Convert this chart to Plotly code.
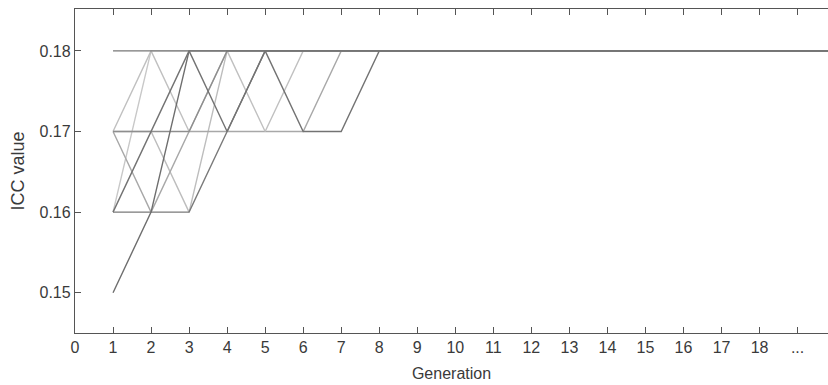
import plotly.graph_objects as go

generations = [1, 2, 3, 4, 5, 6, 7, 8, 9, 10, 11, 12, 13, 14, 15, 16, 17, 18, 19, 20]

run_a = [0.18, 0.18, 0.18, 0.18, 0.18, 0.18, 0.18, 0.18, 0.18, 0.18, 0.18, 0.18, 0.18, 0.18, 0.18, 0.18, 0.18, 0.18, 0.18, 0.18]
run_b = [0.17, 0.18, 0.17, 0.18, 0.17, 0.18, 0.18, 0.18, 0.18, 0.18, 0.18, 0.18, 0.18, 0.18, 0.18, 0.18, 0.18, 0.18, 0.18, 0.18]
run_c = [0.16, 0.17, 0.18, 0.17, 0.18, 0.17, 0.17, 0.18, 0.18, 0.18, 0.18, 0.18, 0.18, 0.18, 0.18, 0.18, 0.18, 0.18, 0.18, 0.18]
run_d = [0.17, 0.16, 0.17, 0.17, 0.17, 0.17, 0.18, 0.18, 0.18, 0.18, 0.18, 0.18, 0.18, 0.18, 0.18, 0.18, 0.18, 0.18, 0.18, 0.18]
run_e = [0.16, 0.16, 0.16, 0.17, 0.18, 0.18, 0.18, 0.18, 0.18, 0.18, 0.18, 0.18, 0.18, 0.18, 0.18, 0.18, 0.18, 0.18, 0.18, 0.18]
run_f = [0.15, 0.16, 0.18, 0.18, 0.18, 0.18, 0.18, 0.18, 0.18, 0.18, 0.18, 0.18, 0.18, 0.18, 0.18, 0.18, 0.18, 0.18, 0.18, 0.18]
run_g = [0.16, 0.18, 0.18, 0.18, 0.18, 0.18, 0.18, 0.18, 0.18, 0.18, 0.18, 0.18, 0.18, 0.18, 0.18, 0.18, 0.18, 0.18, 0.18, 0.18]
run_h = [0.17, 0.17, 0.16, 0.18, 0.18, 0.18, 0.18, 0.18, 0.18, 0.18, 0.18, 0.18, 0.18, 0.18, 0.18, 0.18, 0.18, 0.18, 0.18, 0.18]
run_i = [0.17, 0.17, 0.17, 0.18, 0.18, 0.18, 0.18, 0.18, 0.18, 0.18, 0.18, 0.18, 0.18, 0.18, 0.18, 0.18, 0.18, 0.18, 0.18, 0.18]

runs = [run_g, run_h, run_d, run_b, run_i, run_e, run_f, run_c, run_a]
run_colors = ["#c8c8c8", "#bdbdbd", "#a8a8a8", "#c0c0c0", "#8e8e8e",
              "#7a7a7a", "#6e6e6e", "#737373", "#777777"]

x_tick_vals = [0, 1, 2, 3, 4, 5, 6, 7, 8, 9, 10, 11, 12, 13, 14, 15, 16, 17, 18, 19]
x_tick_text = ["0", "1", "2", "3", "4", "5", "6", "7", "8", "9", "10", "11", "12",
               "13", "14", "15", "16", "17", "18", "..."]
y_tick_vals = [0.15, 0.16, 0.17, 0.18]
y_tick_text = ["0.15", "0.16", "0.17", "0.18"]

fig = go.Figure()
for vals, col in zip(runs, run_colors):
    fig.add_trace(go.Scatter(x=generations, y=vals, mode="lines",
                             line=dict(color=col, width=1.4),
                             showlegend=False, hoverinfo="skip"))

axis_col = "#555555"
font_col = "#3a3a3a"
fig.update_layout(
    width=828, height=385,
    margin=dict(l=75, r=0, t=9, b=52),
    paper_bgcolor="white", plot_bgcolor="white",
    font=dict(family="Liberation Sans, Arial, sans-serif", color=font_col, size=16),
    xaxis=dict(range=[0, 19.8], tickvals=x_tick_vals, ticktext=x_tick_text,
               showgrid=False, zeroline=False, showline=True, linecolor=axis_col,
               linewidth=1.3, mirror="ticks", ticks="inside", ticklen=6,
               tickcolor=axis_col, tickwidth=1.3,
               tickfont=dict(size=16, color=font_col),
               title=dict(text="Generation", font=dict(size=16, color=font_col), standoff=12)),
    yaxis=dict(range=[0.145, 0.1852], tickvals=y_tick_vals, ticktext=y_tick_text,
               showgrid=False, zeroline=False, showline=True, linecolor=axis_col,
               linewidth=1.3, mirror=False, ticks="inside", ticklen=6,
               tickcolor=axis_col, tickwidth=1.3,
               tickfont=dict(size=16, color=font_col),
               title=dict(text="ICC value", font=dict(size=18, color=font_col), standoff=10)),
)

fig.write_html("out.html")
